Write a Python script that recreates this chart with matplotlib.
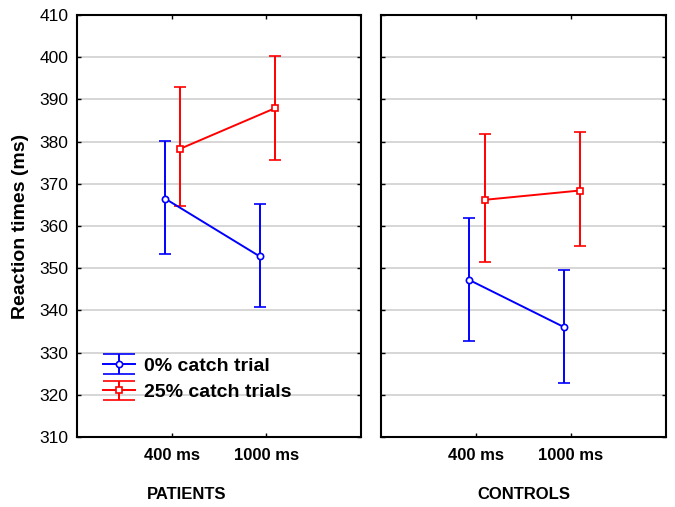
import matplotlib
matplotlib.use("Agg")
import matplotlib.pyplot as plt

plt.rcParams['font.family'] = ['Liberation Sans', 'DejaVu Sans']

# Data
conditions = ['400 ms', '1000 ms']
groups = ['PATIENTS', 'CONTROLS']

# mean, lower, upper for 0% catch trial (blue)
blue_mean = {'PATIENTS': [366.5, 352.8], 'CONTROLS': [347.2, 336.0]}
blue_low = {'PATIENTS': [353.3, 340.7], 'CONTROLS': [332.8, 322.8]}
blue_high = {'PATIENTS': [380.1, 365.2], 'CONTROLS': [361.9, 349.6]}

# mean, lower, upper for 25% catch trials (red)
red_mean = {'PATIENTS': [378.3, 387.9], 'CONTROLS': [366.2, 368.4]}
red_low = {'PATIENTS': [364.8, 375.6], 'CONTROLS': [351.5, 355.2]}
red_high = {'PATIENTS': [393.0, 400.3], 'CONTROLS': [381.8, 382.3]}

fig = plt.figure(figsize=(6.75, 5.07), dpi=100)
W, H = 675, 507
ax_left = fig.add_axes([77 / W, 70 / H, 284 / W, 422 / H])
ax_right = fig.add_axes([381 / W, 70 / H, 285 / W, 422 / H])

style_b = dict(color='#0000ff', marker='o', markersize=4.5, mfc='white', mew=1.2, lw=1.4, capthick=1.4)
style_r = dict(color='#ff0000', marker='s', markersize=4.5, mfc='white', mew=1.2, lw=1.4, capthick=1.4)

for ax, g in zip([ax_left, ax_right], groups):
    xb = [1 - 0.07, 2 - 0.07]
    xr = [1 + 0.09, 2 + 0.09]
    bm, bl, bh = blue_mean[g], blue_low[g], blue_high[g]
    rm, rl, rh = red_mean[g], red_low[g], red_high[g]
    ax.errorbar(xb, bm, yerr=[[m - l for m, l in zip(bm, bl)], [h - m for m, h in zip(bm, bh)]],
                capsize=4, zorder=3, **style_b)
    ax.errorbar(xr, rm, yerr=[[m - l for m, l in zip(rm, rl)], [h - m for m, h in zip(rm, rh)]],
                capsize=4, zorder=3, **style_r)
    ax.set_xlim(0, 3)
    ax.set_ylim(310, 410)
    ax.set_yticks(range(310, 411, 10))
    ax.set_xticks([1, 2])
    ax.set_xticklabels(conditions, fontsize=12, fontweight='bold')
    ax.grid(axis='y', color='#d0d0d0', lw=1.2)
    ax.set_axisbelow(True)
    ax.tick_params(direction='in', top=True, right=True, length=3, width=1, pad=8)
    ax.tick_params(axis='y', labelsize=12.5, pad=6)
    for s in ax.spines.values():
        s.set_linewidth(1.5)
    ax.set_xlabel(g, fontsize=12, fontweight='bold')

ax_left.xaxis.set_label_coords(0.385, -0.118)
ax_right.xaxis.set_label_coords(0.5, -0.118)
ax_right.tick_params(axis='y', labelleft=False)
ax_left.set_ylabel('Reaction times (ms)', fontsize=14, fontweight='bold', labelpad=8)

# legend proxies with wide caps
hb = ax_left.errorbar([float('nan')], [float('nan')], yerr=[1], capsize=11.5, label='0% catch trial', **style_b)
hr = ax_left.errorbar([float('nan')], [float('nan')], yerr=[1], capsize=11.5, label='25% catch trials', **style_r)
ax_left.legend(handles=[hb, hr], loc='lower left', bbox_to_anchor=(0.09, 0.085), frameon=False,
               prop={'weight': 'bold', 'size': 14}, handlelength=1.65,
               handletextpad=0.5, labelspacing=0.45, borderaxespad=0, borderpad=0)

fig.savefig('out.png', dpi=100)
